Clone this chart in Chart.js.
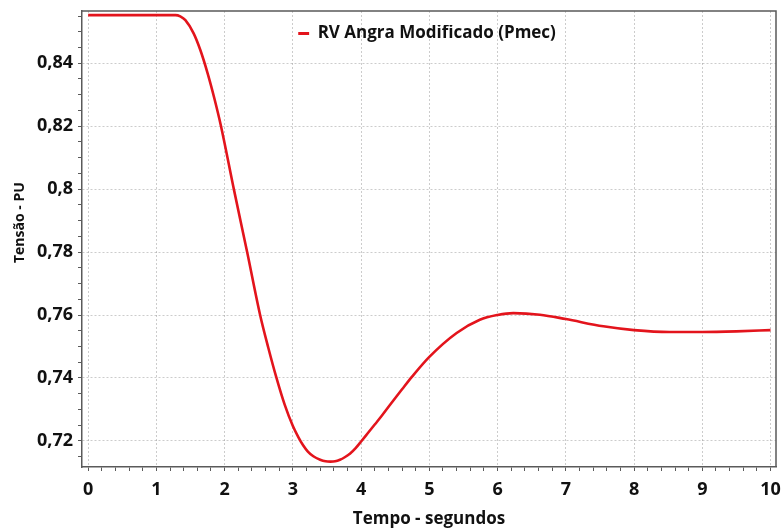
<!DOCTYPE html>
<html>
<head>
<meta charset="utf-8">
<script src="https://cdn.jsdelivr.net/npm/chart.js@4.4.1/dist/chart.umd.min.js"></script>
<style>
  html, body { margin: 0; padding: 0; background: #fff; }
  canvas { display: block; }
</style>
</head>
<body>
<canvas id="chart" width="784" height="531"></canvas>
<script>
/* ===== data ===== */

const timeSec = [0, 0.5, 1.0, 1.2, 1.28, 1.35, 1.425, 1.546, 1.644, 1.751, 1.85, 1.947,
    2.135, 2.33, 2.52, 2.64, 2.76, 2.88, 3.0, 3.08, 3.15, 3.22, 3.3, 3.4, 3.48, 3.55,
    3.62, 3.69, 3.76, 3.84, 3.92, 4.0, 4.1, 4.2, 4.3, 4.45, 4.6, 4.75,
    5.0, 5.4, 5.74, 6.0, 6.23, 6.62, 7.0, 7.55, 8.0, 8.52, 9.0, 9.5, 10.0];

const tensaoPU = [0.8553, 0.8553, 0.8553, 0.8553, 0.8553, 0.8549, 0.8537, 0.8495, 0.8442, 0.8368, 0.8288, 0.8200,
    0.8000, 0.7800, 0.7600, 0.7496, 0.7400, 0.7315, 0.7247, 0.7212, 0.7186, 0.7166, 0.7151, 0.7140, 0.7135, 0.7134,
    0.7135, 0.7140, 0.7148, 0.7160, 0.7177, 0.7198, 0.7225, 0.7252, 0.7279, 0.7322, 0.7364, 0.7405,
    0.7467, 0.7543, 0.7585, 0.7600, 0.7606, 0.7601, 0.7587, 0.7564, 0.7552, 0.7546, 0.7546, 0.7548, 0.7552];

const seriesLabel = "RV Angra Modificado (Pmec)";
const xTitle = "Tempo - segundos";
const yTitle = "Tensão - PU";

/* ===== helpers ===== */

const FONT = "'Open Sans', 'DejaVu Sans', sans-serif";
const GRID = "rgba(0,0,0,0.2)";
const AXIS = "#5a5a5a";

function isMajor(v, step) {
    const q = v / step;
    return Math.abs(q - Math.round(q)) < 1e-6;
}

function fmtPU(v) {
    return String(parseFloat(v.toFixed(2))).replace(".", ",");
}

/* legend moved inside the top of the plot, frame on top and right */
const framePlugin = {
    id: "frame",
    afterLayout(chart) {
        const lg = chart.legend, ca = chart.chartArea;
        if (!lg) return;
        const w = lg.width;
        lg.left = (ca.left + ca.right) / 2 - w / 2 + 3;
        lg.right = lg.left + w;
        lg.top = ca.top + 14;
    },
    afterDraw(chart) {
        const { ctx, chartArea: ca } = chart;
        ctx.save();
        ctx.strokeStyle = AXIS;
        ctx.lineWidth = 1.5;
        ctx.beginPath();
        ctx.moveTo(ca.left, ca.top);
        ctx.lineTo(ca.right, ca.top);
        ctx.lineTo(ca.right, ca.bottom);
        ctx.stroke();
        ctx.restore();
    }
};

/* ===== chart ===== */

new Chart(document.getElementById("chart"), {
    type: "scatter",
    data: {
        datasets: [{
            label: seriesLabel,
            data: timeSec.map((t, i) => ({ x: t, y: tensaoPU[i] })),
            showLine: true,
            borderColor: "#e3141c",
            backgroundColor: "#e3141c",
            borderWidth: 2.6,
            pointRadius: 0,
            cubicInterpolationMode: "monotone"
        }]
    },
    options: {
        responsive: false,
        animation: false,
        layout: { padding: { top: 11, right: 8, left: 0, bottom: 0 } },
        plugins: {
            tooltip: { enabled: false },
            legend: {
                position: "chartArea",
                align: "start",
                labels: {
                    color: "#111",
                    font: { family: FONT, size: 17, weight: "bold" },
                    boxWidth: 11,
                    boxHeight: 3,
                    padding: 0,
                    generateLabels: chart =>
                        Chart.defaults.plugins.legend.labels.generateLabels(chart)
                            .map(l => ({ ...l, lineWidth: 0 }))
                }
            }
        },
        scales: {
            x: {
                type: "linear",
                min: -0.09,
                max: 10.08,
                afterFit: s => { s.height = 64; s.paddingLeft = 0; s.paddingRight = 0; },
                ticks: {
                    stepSize: 0.2,
                    includeBounds: false,
                    autoSkip: false,
                    maxRotation: 0,
                    padding: 8,
                    color: "#111",
                    font: { family: FONT, size: 18, weight: "bold" },
                    callback: v => isMajor(v, 1) ? String(Math.round(v)) : ""
                },
                grid: {
                    color: c => (c.tick && isMajor(c.tick.value, 1)) ? GRID : "transparent",
                    tickColor: AXIS,
                    tickLength: 4,
                    lineWidth: 1
                },
                border: { color: AXIS, width: 1.5, dash: [2, 2] },
                title: {
                    display: true,
                    text: xTitle,
                    color: "#111",
                    font: { family: FONT, size: 17, weight: "bold" },
                    padding: { top: 0, bottom: 2 }
                }
            },
            y: {
                type: "linear",
                min: 0.7117,
                max: 0.8566,
                afterFit: s => { s.width = 82; s.paddingTop = 0; s.paddingBottom = 0; },
                ticks: {
                    stepSize: 0.005,
                    includeBounds: false,
                    autoSkip: false,
                    padding: 5,
                    color: "#111",
                    font: { family: FONT, size: 18, weight: "bold" },
                    callback: v => isMajor(v, 0.02) ? fmtPU(v) : ""
                },
                grid: {
                    color: c => (c.tick && isMajor(c.tick.value, 0.02)) ? GRID : "transparent",
                    tickColor: AXIS,
                    tickLength: 4,
                    lineWidth: 1
                },
                border: { color: AXIS, width: 1.5, dash: [2, 2] },
                title: {
                    display: true,
                    text: "         " + yTitle,
                    color: "#111",
                    font: { family: FONT, size: 14, weight: "bold" },
                    padding: { top: 12, bottom: 0 }
                }
            }
        }
    },
    plugins: [framePlugin]
});
</script>
</body>
</html>
